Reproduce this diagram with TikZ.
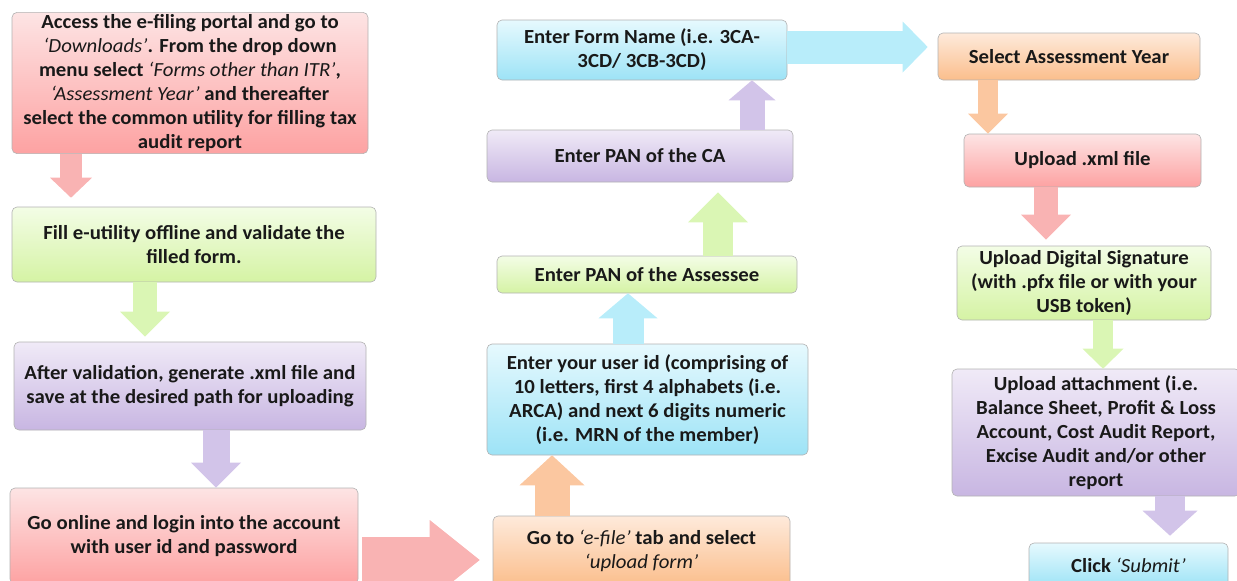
\documentclass[tikz,border=0pt]{standalone}
\usepackage{fontspec}
\newfontfamily\flowfont{Carlito}[FakeStretch=1.04]
\usetikzlibrary{arrows.meta}
\definecolor{redtop}{HTML}{FDE4E4}
\definecolor{redbot}{HTML}{FDA2A2}
\definecolor{greentop}{HTML}{F3FDE6}
\definecolor{greenbot}{HTML}{D5F3A4}
\definecolor{purpletop}{HTML}{F0EAF7}
\definecolor{purplebot}{HTML}{C8B6E2}
\definecolor{bluetop}{HTML}{E6F9FE}
\definecolor{bluebot}{HTML}{9DE3F6}
\definecolor{orangetop}{HTML}{FEEADB}
\definecolor{orangebot}{HTML}{FBBE8C}
\definecolor{redfat}{HTML}{F9B3B3}
\definecolor{greenfat}{HTML}{DAF6B4}
\definecolor{purplefat}{HTML}{D2C4E9}
\definecolor{bluefat}{HTML}{B8EDFA}
\definecolor{orangefat}{HTML}{FBC7A0}
\newcommand{\quoted}[1]{\textmd{\itshape ‘#1’}}
\tikzset{
  stage/.style={draw=black!30, line width=0.3pt, rounded corners=2.5pt,
    align=center, inner sep=1pt, text=black!90,
    font=\flowfont\bfseries\fontsize{10}{12}\selectfont},
  redstage/.style={stage, top color=redtop, bottom color=redbot},
  greenstage/.style={stage, top color=greentop, bottom color=greenbot},
  purplestage/.style={stage, top color=purpletop, bottom color=purplebot},
  bluestage/.style={stage, top color=bluetop, bottom color=bluebot},
  orangestage/.style={stage, top color=orangetop, bottom color=orangebot},
  push/.style n args={4}{draw=#1, line width=#2,
    -{Triangle[width=#3, length=#4, line width=0pt]}},
}
\begin{document}
\begin{tikzpicture}[x=0.5pt, y=-0.5pt]
        \useasboundingbox (0,0) rectangle (1237,580);
        \clip (0,0) rectangle (1237,580);
        \node[redstage, minimum width=178pt, minimum height=69pt] (access) at (190,83)
          {Access the e-filing portal and go to\\ \quoted{Downloads}. From the drop down\\
           menu select \quoted{Forms other than ITR},\\ \quoted{Assessment Year} and thereafter\\
           select the common utility for filling tax\\ audit report};
        \node[greenstage, minimum width=182pt, minimum height=37.5pt] (fill) at (194,244.5)
          {Fill e-utility offline and validate the\\ filled form.};
        \node[purplestage, minimum width=176pt, minimum height=44pt] (save) at (190,386)
          {After validation, generate .xml file and\\ save at the desired path for uploading};
        \node[redstage, minimum width=174pt, minimum height=48pt] (login) at (184,536)
          {Go online and login into the account\\ with user id and password};
        \node[orangestage, minimum width=148.5pt, minimum height=35pt] (efile) at (641.5,551)
          {Go to \quoted{e-file} tab and select\\ \quoted{upload form}};
        \node[bluestage, minimum width=160.5pt, minimum height=55.5pt] (userid) at (647.5,399.5)
          {Enter your user id (comprising of\\ 10 letters, first 4 alphabets (i.e.\\
           ARCA) and next 6 digits numeric\\ (i.e. MRN of the member)};
        \node[greenstage, minimum width=150pt, minimum height=18.5pt] (pana) at (647,274.5)
          {Enter PAN of the Assessee};
        \node[purplestage, minimum width=153pt, minimum height=26pt] (panca) at (640,156)
          {Enter PAN of the CA};
        \node[bluestage, minimum width=145pt, minimum height=30pt] (form) at (642,50)
          {Enter Form Name (i.e. 3CA-\\ 3CD/ 3CB-3CD)};
        \node[orangestage, minimum width=131pt, minimum height=23.5pt] (year) at (1069,56.5)
          {Select Assessment Year};
        \node[redstage, minimum width=118.5pt, minimum height=26.5pt] (upload) at (1082.5,160.5)
          {Upload .xml file};
        \node[greenstage, minimum width=127pt, minimum height=37pt] (sign) at (1084,283)
          {Upload Digital Signature\\ (with .pfx file or with your\\ USB token)};
        \node[purplestage, minimum width=144pt, minimum height=63.5pt] (attach) at (1096,432.5)
          {Upload attachment (i.e.\\ Balance Sheet, Profit \& Loss\\
           Account, Cost Audit Report,\\ Excise Audit and/or other\\ report};
        \node[bluestage, minimum width=99.5pt, minimum height=22pt] (submit) at (1128.5,565)
          {Click \quoted{Submit}};
        \draw[push={redfat}{11pt}{21pt}{10pt}, shorten >=4.5pt] (access.south -| 71,0) -- (fill.north -| 71,0);
        \draw[push={greenfat}{12pt}{25pt}{12.5pt}, shorten >=2.5pt] (fill.south -| 145,0) -- (save.north -| 145,0);
        \draw[push={purplefat}{13.5pt}{25pt}{12.5pt}] (save.south -| 216,0) -- (login.north -| 216,0);
        \draw[push={redfat}{23pt}{40pt}{25pt}, shorten <=2pt, shorten >=6.5pt] (login.east |- 0,560) -- (efile.west |- 0,560);
        \draw[push={orangefat}{17.5pt}{32.5pt}{15pt}] (efile.north -| 552,0) -- (userid.south -| 552,0);
        \draw[push={bluefat}{15.5pt}{29.5pt}{12.5pt}] (userid.north -| 628,0) -- (pana.south -| 628,0);
        \draw[push={greenfat}{15pt}{30pt}{15pt}, shorten >=5pt] (pana.north -| 718,0) -- (panca.south -| 718,0);
        \draw[push={purplefat}{12.5pt}{23.5pt}{10pt}] (panca.north -| 752,0) -- (form.south -| 752,0);
        \draw[push={bluefat}{16.5pt}{25.5pt}{12.5pt}, shorten >=5pt] (form.east |- 0,47) -- (year.west |- 0,47);
        \draw[push={orangefat}{10pt}{20pt}{10pt}] (year.south -| 988,0) -- (upload.north -| 988,0);
        \draw[push={redfat}{12pt}{25pt}{12.5pt}, shorten >=3pt] (upload.south -| 1046,0) -- (sign.north -| 1046,0);
        \draw[push={greenfat}{10pt}{20.5pt}{10pt}] (sign.south -| 1103,0) -- (attach.north -| 1103,0);
        \draw[push={purplefat}{15pt}{27.5pt}{12.5pt}, shorten >=3.5pt] (attach.south -| 1170,0) -- (submit.north -| 1170,0);
      \end{tikzpicture}
\end{document}
